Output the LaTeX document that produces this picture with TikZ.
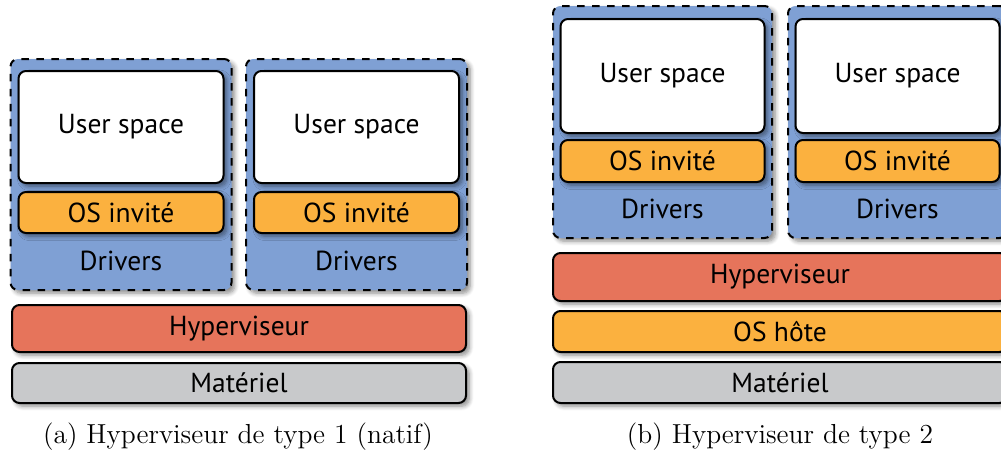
\documentclass[tikz,border=0pt]{standalone}
\usepackage{fontspec}
\setsansfont{PT Sans}
\usepackage{xcolor}
\usepackage{tikz}
\usetikzlibrary{shadows.blur}

\definecolor{vmblue}{HTML}{7FA0D4}
\definecolor{osorange}{HTML}{FBB13F}
\definecolor{hypred}{HTML}{E6745B}
\definecolor{hwgrey}{HTML}{C8C9CB}

\newcommand{\px}{0.4pt}

\tikzset{
  layer/.style={draw, line width=0.8pt, rounded corners=3pt, inner sep=0pt,
    font=\sffamily\fontsize{11}{13}\selectfont,
    blur shadow={shadow xshift=1.3pt, shadow yshift=-1.3pt, shadow blur steps=6, shadow opacity=45}},
  vmbox/.style={layer, fill=vmblue, dashed},
  userbox/.style={layer, fill=white},
  guestbox/.style={layer, fill=osorange},
  caption/.style={font=\rmfamily\fontsize{11}{13}\selectfont}
}

\begin{document}
\begin{tikzpicture}[x=\px, y=-\px]

\useasboundingbox (0,0) rectangle (1001,454);
\clip (0,0) rectangle (1001,454);

% Type 1 : two guests directly on the hypervisor
\foreach \n/\x in {a/121, b/356.5} {
    \node[vmbox, minimum width=221*\px, minimum height=231*\px] (vm1\n) at (\x,174.5) {};
    \node[userbox, minimum width=205*\px, minimum height=112*\px] (user1\n) at (\x,127) {User space};
    \node[guestbox, minimum width=205*\px, minimum height=41*\px] (guest1\n) at (\x,212.5) {OS invité};
    \node[font=\sffamily\fontsize{11}{13}\selectfont] (drv1\n) at (\x,261) {Drivers};
}
\node[layer, fill=hypred, minimum width=454*\px, minimum height=47*\px] (hyp1) at (239,328.5) {Hyperviseur};
\node[layer, fill=hwgrey, minimum width=454*\px, minimum height=40*\px] (hw1) at (239,383) {Matériel};
\node[caption] (cap1) at (238,437) {(a) Hyperviseur de type 1 (natif)};

% Type 2 : hypervisor on top of a host OS
\foreach \n/\x in {a/662.5, b/897.5} {
    \node[vmbox, minimum width=219*\px, minimum height=232*\px] (vm2\n) at (\x,122) {};
    \node[userbox, minimum width=204*\px, minimum height=114*\px] (user2\n) at (\x,76) {User space};
    \node[guestbox, minimum width=204*\px, minimum height=42*\px] (guest2\n) at (\x,161) {OS invité};
    \node[font=\sffamily\fontsize{11}{13}\selectfont] (drv2\n) at (\x,209) {Drivers};
}
\node[layer, fill=hypred, minimum width=454*\px, minimum height=48*\px] (hyp2) at (780,277) {Hyperviseur};
\node[guestbox, minimum width=454*\px, minimum height=41*\px] (host2) at (780,331.5) {OS hôte};
\node[layer, fill=hwgrey, minimum width=454*\px, minimum height=41*\px] (hw2) at (780,382.5) {Matériel};
\node[caption] (cap2) at (780,437) {(b) Hyperviseur de type 2};

\end{tikzpicture}
\end{document}
